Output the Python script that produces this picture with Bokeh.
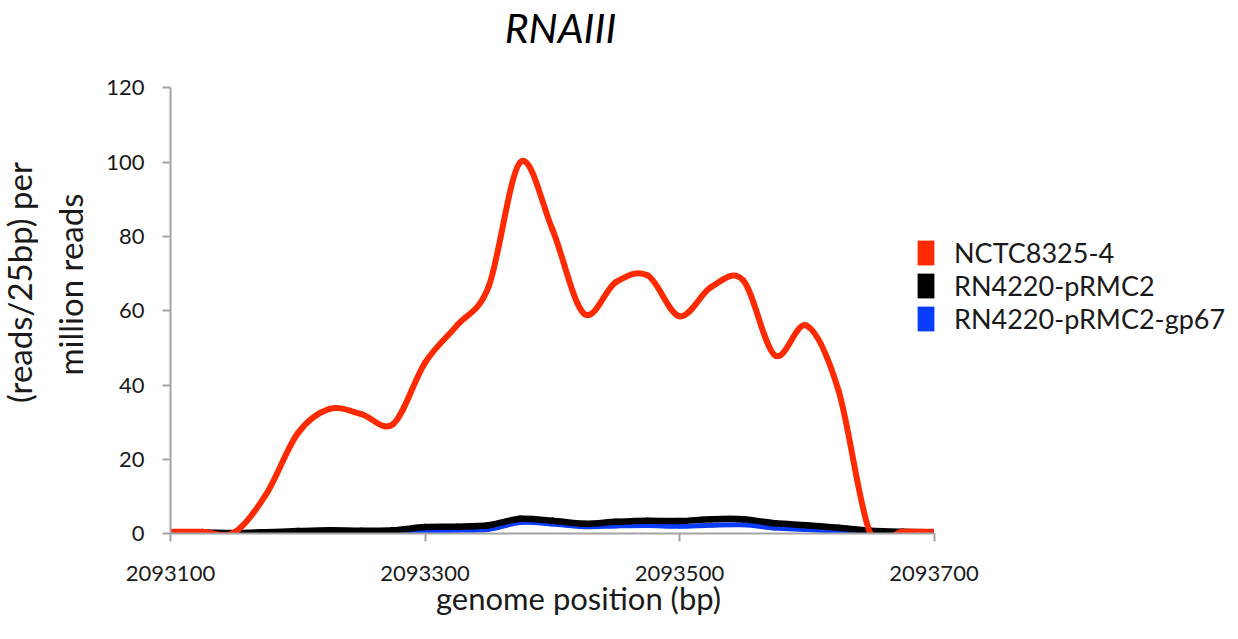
import math
from bokeh.plotting import figure
from bokeh.models import (Label, Legend, LegendItem, FixedTicker, BoxAnnotation,
                          BasicTickFormatter, Range1d, ColumnDataSource)
from bokeh.embed import file_html
from bokeh.resources import INLINE

# ---------------- data ----------------
positions = [2093100, 2093125, 2093150, 2093175, 2093200, 2093225, 2093250,
             2093275, 2093300, 2093325, 2093350, 2093375, 2093400, 2093425,
             2093450, 2093475, 2093500, 2093525, 2093550, 2093575, 2093600,
             2093625, 2093650, 2093675, 2093700]
nctc8325_4 = [0.5, 0.5, 0.3, 10.5, 27.0, 33.6, 32.2, 29.5, 46.0, 56.0, 66.5,
              100.0, 82.0, 59.2, 67.7, 69.5, 58.5, 66.4, 68.2, 48.0, 56.0,
              38.5, 0.0, 0.5, 0.5]
rn4220_prmc2 = [0.3, 0.3, 0.2, 0.4, 0.7, 0.9, 0.8, 0.9, 1.8, 1.9, 2.3, 4.0,
                3.5, 2.7, 3.2, 3.5, 3.4, 3.9, 3.9, 2.8, 2.3, 1.6, 0.8, 0.5, 0.4]
rn4220_prmc2_gp67 = [0.1, 0.1, 0.1, 0.1, 0.2, 0.2, 0.3, 0.4, 0.7, 0.9, 1.2,
                     3.0, 2.6, 1.9, 2.1, 2.2, 2.0, 2.3, 2.4, 1.5, 1.1, 0.6,
                     0.2, 0.1, 0.1]
series_names = ["NCTC8325-4", "RN4220-pRMC2", "RN4220-pRMC2-gp67"]
series_colors = ["#ff2a00", "#000000", "#0a3cff"]
x_ticks = [2093100, 2093300, 2093500, 2093700]
y_ticks = [0, 20, 40, 60, 80, 100, 120]
title_text = "RNAIII"
x_label = "genome position (bp)"
y_label_lines = ["(reads/25bp) per", "million reads"]

# ---------------- layout (canvas pixels) ----------------
W, H = 1238, 639
AX_LEFT_PX = 170          # canvas x of the y axis
AX_BOTTOM_PX = 533.2      # canvas y (from top) of the x axis
PX_PER_BP = 1.2725
PX_PER_UNIT = 3.7158

FONT = "Lato"
TXT = "#1a1a1a"
AXC = "#a3a3a3"

x_start = x_ticks[0] - AX_LEFT_PX / PX_PER_BP
x_end = x_start + W / PX_PER_BP
y_start = y_ticks[0] - (H - AX_BOTTOM_PX) / PX_PER_UNIT
y_end = y_start + H / PX_PER_UNIT


def smooth_segments(xs, ys):
    """Bezier segments of a smoothed line through the points (Excel-like)."""
    n = len(xs)
    d = dict(x0=[], y0=[], x1=[], y1=[], cx0=[], cy0=[], cx1=[], cy1=[])
    for i in range(n - 1):
        ip = max(i - 1, 0)
        i2 = min(i + 2, n - 1)
        d["x0"].append(xs[i]); d["y0"].append(ys[i])
        d["x1"].append(xs[i + 1]); d["y1"].append(ys[i + 1])
        d["cx0"].append(xs[i] + (xs[i + 1] - xs[ip]) / 6.0)
        d["cy0"].append(ys[i] + (ys[i + 1] - ys[ip]) / 6.0)
        d["cx1"].append(xs[i + 1] - (xs[i2] - xs[i]) / 6.0)
        d["cy1"].append(ys[i + 1] - (ys[i2] - ys[i]) / 6.0)
    return ColumnDataSource(d)


p = figure(width=W, height=H, x_range=Range1d(x_start, x_end),
           y_range=Range1d(y_start, y_end), output_backend="svg",
           toolbar_location=None, min_border=0, min_border_left=0,
           min_border_right=0, min_border_top=0, min_border_bottom=0)
p.outline_line_color = None
p.xgrid.visible = False
p.ygrid.visible = False

# curves: blue, black, then red on top
for ys, col, w in [(rn4220_prmc2_gp67, series_colors[2], 5),
                   (rn4220_prmc2, series_colors[1], 6.5),
                   (nctc8325_4, series_colors[0], 6)]:
    src = smooth_segments(positions, ys)
    p.bezier(x0="x0", y0="y0", x1="x1", y1="y1", cx0="cx0", cy0="cy0",
             cx1="cx1", cy1="cy1", source=src, line_color=col,
             line_width=w, line_cap="round")

# clip the curves to the plot area (as the original chart does)
for kw in (dict(top=y_ticks[0]), dict(right=x_ticks[0]),
           dict(left=x_ticks[-1])):
    p.add_layout(BoxAnnotation(fill_color="white", fill_alpha=1,
                               line_color=None, level="glyph", **kw))

# legend swatches (one NaN row each, so nothing is drawn in the plot)
nan = float("nan")
legend_items = []
for name, col in zip(series_names, series_colors):
    r = p.quad(left=[nan], right=[nan], top=[nan], bottom=[nan],
               fill_color=col, line_color=None)
    legend_items.append(LegendItem(label=name, renderers=[r]))
legend = Legend(items=legend_items, location=(915, 304), padding=0, margin=0,
                spacing=-3, glyph_width=21, glyph_height=31, label_height=31,
                label_standoff=18, border_line_color=None,
                background_fill_alpha=0, label_text_font=FONT,
                label_text_font_size="27px", label_text_color=TXT)
p.add_layout(legend)

# axes (fixed inside the plot area)
for ax in (p.xaxis, p.yaxis):
    ax.axis_line_color = AXC
    ax.axis_line_width = 2
    ax.major_tick_line_color = AXC
    ax.major_tick_line_width = 2
    ax.major_tick_in = 0
    ax.major_tick_out = 8
    ax.minor_tick_line_color = None
    ax.major_label_text_font = FONT
    ax.major_label_text_font_size = "22px"
    ax.major_label_text_color = TXT

p.xaxis.fixed_location = y_ticks[0]
p.yaxis.fixed_location = x_ticks[0]
p.xaxis.bounds = (x_ticks[0], x_ticks[-1])
p.yaxis.bounds = (y_ticks[0], y_ticks[-1])
p.xaxis.ticker = FixedTicker(ticks=x_ticks)
p.yaxis.ticker = FixedTicker(ticks=y_ticks)
p.xaxis.formatter = BasicTickFormatter(use_scientific=False)
p.xaxis.major_label_standoff = 24
p.yaxis.major_label_standoff = 18

# texts (screen units: from the bottom-left of the canvas)
p.add_layout(Label(x=560, y=612, x_units="screen", y_units="screen",
                   text=title_text, text_font=FONT, text_font_size="41px",
                   text_font_style="italic", text_color="black",
                   text_align="center", text_baseline="alphabetic"))
p.add_layout(Label(x=578, y=42, x_units="screen", y_units="screen",
                   text=x_label, text_font=FONT, text_font_size="31px",
                   text_color=TXT, text_align="center",
                   text_baseline="alphabetic"))
for lx, ly, line in [(18, 357, y_label_lines[0]), (69, 355, y_label_lines[1])]:
    p.add_layout(Label(x=lx, y=ly, x_units="screen", y_units="screen",
                       text=line, text_font=FONT, text_font_size="33px",
                       text_color=TXT, text_align="center",
                       text_baseline="alphabetic", angle=math.pi / 2))

open("out.html", "w").write(file_html(p, INLINE))
